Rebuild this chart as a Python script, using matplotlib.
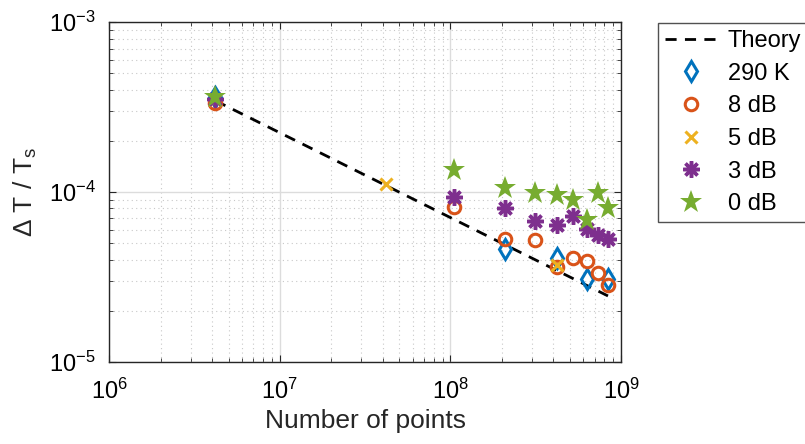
import matplotlib
matplotlib.use("Agg")
import matplotlib.pyplot as plt
from matplotlib.ticker import LogLocator, NullFormatter

plt.rcParams['font.family'] = ['Liberation Sans', 'DejaVu Sans']
plt.rcParams['mathtext.fontset'] = 'custom'
plt.rcParams['mathtext.rm'] = 'Liberation Sans'
plt.rcParams['mathtext.it'] = 'Liberation Sans'
plt.rcParams['axes.unicode_minus'] = False

# data
theory_n = [4.19e6, 8.39e8]
theory_dt = [3.45e-4, 2.44e-5]

k290_n = [4.19e6, 2.10e8, 4.19e8, 6.29e8, 8.39e8]
k290_dt = [3.63e-4, 4.62e-5, 4.06e-5, 3.08e-5, 3.05e-5]

db8_n = [4.19e6, 1.05e8, 2.10e8, 3.15e8, 4.19e8, 5.24e8, 6.29e8, 7.34e8, 8.39e8]
db8_dt = [3.35e-4, 8.2e-5, 5.31e-5, 5.18e-5, 3.62e-5, 4.09e-5, 3.91e-5, 3.31e-5, 2.82e-5]

db5_n = [4.19e6, 4.19e7, 4.19e8]
db5_dt = [3.5e-4, 1.12e-4, 3.73e-5]

db3_n = [4.19e6, 1.05e8, 2.10e8, 3.15e8, 4.19e8, 5.24e8, 6.29e8, 7.34e8, 8.39e8]
db3_dt = [3.55e-4, 9.4e-5, 8.05e-5, 6.71e-5, 6.42e-5, 7.26e-5, 6.05e-5, 5.6e-5, 5.25e-5]

db0_n = [4.19e6, 1.05e8, 2.10e8, 3.15e8, 4.19e8, 5.24e8, 6.29e8, 7.34e8, 8.39e8]
db0_dt = [3.65e-4, 1.35e-4, 1.05e-4, 9.86e-5, 9.64e-5, 9.0e-5, 6.87e-5, 9.86e-5, 8.05e-5]

FS = 17
FS_LAB = 19

fig = plt.figure(figsize=(8.05, 4.44), dpi=100)
ax = fig.add_axes([0.1358, 0.1854, 0.6356, 0.7644])

ax.plot(theory_n, theory_dt, color='k', lw=2, dashes=(4, 3), label='Theory')
ax.plot(k290_n, k290_dt, ls='none', marker='d', ms=10, mfc='none', mew=2.2,
        color='#0072BD', label='290 K')
ax.plot(db8_n, db8_dt, ls='none', marker='o', ms=9, mfc='none', mew=2.2,
        color='#D95319', label='8 dB')
ax.plot(db5_n, db5_dt, ls='none', marker='x', ms=9, mew=2.2,
        color='#EDB120', label='5 dB')
ax.plot(db3_n, db3_dt, ls='none', marker=(8, 2, 0), ms=12, mew=2.5,
        color='#7E2F8E', label='3 dB')
ax.plot(db0_n, db0_dt, ls='none', marker='*', ms=17, mew=0,
        color='#77AC30', label='0 dB')

ax.set_xscale('log')
ax.set_yscale('log')
ax.set_xlim(1e6, 1e9)
ax.set_ylim(1e-5, 1e-3)
ax.xaxis.set_major_locator(LogLocator(base=10, numticks=10))
ax.yaxis.set_major_locator(LogLocator(base=10, numticks=10))
ax.xaxis.set_minor_locator(LogLocator(base=10, subs=range(2, 10), numticks=20))
ax.yaxis.set_minor_locator(LogLocator(base=10, subs=range(2, 10), numticks=20))
ax.xaxis.set_minor_formatter(NullFormatter())
ax.yaxis.set_minor_formatter(NullFormatter())

ax.grid(which='major', color='#dcdcdc', lw=1, ls='-')
ax.grid(which='minor', color='#c8c8c8', lw=0.8, ls=(0, (1, 3)))
ax.set_axisbelow(True)
ax.tick_params(which='both', direction='in', top=True, right=True, labelsize=FS,
               color='#262626')
ax.tick_params(which='major', length=5)
ax.tick_params(which='minor', length=3)
ax.tick_params(axis='x', which='major', pad=12)
ax.tick_params(axis='y', which='major', pad=10)
for s in ax.spines.values():
    s.set_color('#262626')
    s.set_linewidth(1)

ax.set_xlabel('Number of points', fontsize=FS_LAB, color='#262626', labelpad=4)
ax.set_ylabel(r'$\Delta$ T / T$_{\rm s}$', fontsize=FS_LAB, color='#262626',
              labelpad=7)

leg = fig.legend(loc='upper left', bbox_to_anchor=(658 / 805, 1 - 23 / 444),
                 fontsize=FS, frameon=True, fancybox=False, edgecolor='#262626',
                 handlelength=2.2, handletextpad=0.45, labelspacing=0.45,
                 borderpad=0.3, borderaxespad=0)
leg.get_frame().set_linewidth(1)

fig.savefig('out.png', dpi=100)
